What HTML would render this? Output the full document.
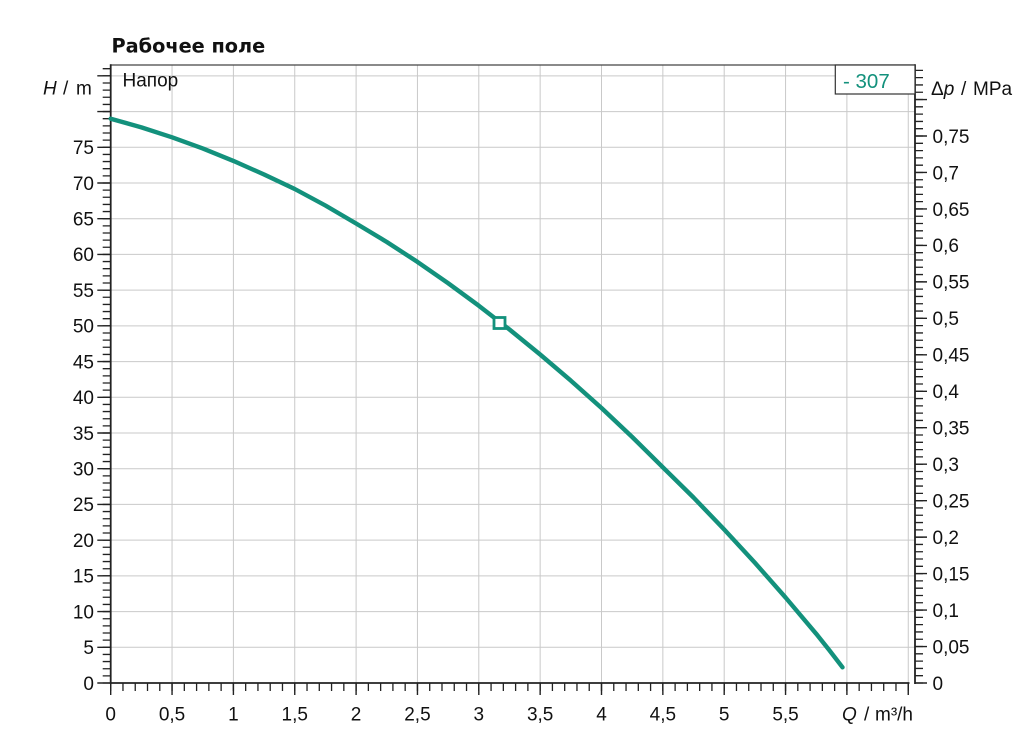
<!DOCTYPE html>
<html>
<head>
<meta charset="utf-8">
<style>
html,body{margin:0;padding:0;background:#fff;}
svg{display:block;}
text{font-family:"Liberation Sans",Arial,sans-serif;fill:#111;}
</style>
</head>
<body>
<svg width="1020" height="740" viewBox="0 0 1020 740" xmlns="http://www.w3.org/2000/svg">
<rect x="0" y="0" width="1020" height="740" fill="#fff"/>

<!-- title -->
<text x="111.5" y="52.5" style="font-family:'DejaVu Sans','Liberation Sans',sans-serif;font-weight:bold;font-size:19.3px;">Рабочее поле</text>

<!-- grid -->
<g stroke="#c9c9c9" stroke-width="1" fill="none">
<line x1="172.05" y1="65" x2="172.05" y2="683"/>
<line x1="233.4" y1="65" x2="233.4" y2="683"/>
<line x1="294.75" y1="65" x2="294.75" y2="683"/>
<line x1="356.1" y1="65" x2="356.1" y2="683"/>
<line x1="417.45" y1="65" x2="417.45" y2="683"/>
<line x1="478.8" y1="65" x2="478.8" y2="683"/>
<line x1="540.15" y1="65" x2="540.15" y2="683"/>
<line x1="601.5" y1="65" x2="601.5" y2="683"/>
<line x1="662.85" y1="65" x2="662.85" y2="683"/>
<line x1="724.2" y1="65" x2="724.2" y2="683"/>
<line x1="785.55" y1="65" x2="785.55" y2="683"/>
<line x1="846.9" y1="65" x2="846.9" y2="683"/>
<line x1="908.25" y1="65" x2="908.25" y2="683"/>

<line x1="110.7" y1="647.29" x2="915" y2="647.29"/>
<line x1="110.7" y1="611.57" x2="915" y2="611.57"/>
<line x1="110.7" y1="575.86" x2="915" y2="575.86"/>
<line x1="110.7" y1="540.14" x2="915" y2="540.14"/>
<line x1="110.7" y1="504.43" x2="915" y2="504.43"/>
<line x1="110.7" y1="468.71" x2="915" y2="468.71"/>
<line x1="110.7" y1="433.0" x2="915" y2="433.0"/>
<line x1="110.7" y1="397.29" x2="915" y2="397.29"/>
<line x1="110.7" y1="361.57" x2="915" y2="361.57"/>
<line x1="110.7" y1="325.86" x2="915" y2="325.86"/>
<line x1="110.7" y1="290.14" x2="915" y2="290.14"/>
<line x1="110.7" y1="254.43" x2="915" y2="254.43"/>
<line x1="110.7" y1="218.71" x2="915" y2="218.71"/>
<line x1="110.7" y1="183.0" x2="915" y2="183.0"/>
<line x1="110.7" y1="147.29" x2="915" y2="147.29"/>
<line x1="110.7" y1="111.57" x2="915" y2="111.57"/>
<line x1="110.7" y1="75.86" x2="915" y2="75.86"/>
</g>

<!-- top frame -->
<line x1="110" y1="65" x2="915" y2="65" stroke="#444" stroke-width="1.3"/>

<!-- ticks: left axis -->
<line x1="106.7" y1="683.65" x2="106.7" y2="66" stroke="#222" stroke-width="8" stroke-dasharray="1.3 5.8429"/>
<line x1="104" y1="683.7" x2="104" y2="73" stroke="#222" stroke-width="13.4" stroke-dasharray="1.4 34.314"/>

<!-- ticks: right axis -->
<line x1="919" y1="683.65" x2="919" y2="68" stroke="#222" stroke-width="8" stroke-dasharray="1.3 5.9933"/>
<line x1="921" y1="683.7" x2="921" y2="97" stroke="#222" stroke-width="12" stroke-dasharray="1.4 35.067"/>

<!-- ticks: bottom axis -->
<line x1="110.05" y1="687" x2="910" y2="687" stroke="#222" stroke-width="8" stroke-dasharray="1.3 10.97"/>
<line x1="110.0" y1="689" x2="910" y2="689" stroke="#222" stroke-width="12" stroke-dasharray="1.4 59.95"/>

<!-- axes -->
<line x1="110.7" y1="64.3" x2="110.7" y2="684" stroke="#222" stroke-width="1.8"/>
<line x1="110" y1="683" x2="909.5" y2="683" stroke="#222" stroke-width="1.8"/>
<line x1="915" y1="64.3" x2="915" y2="684" stroke="#222" stroke-width="1.8"/>

<!-- text labels inside -->
<text x="122.5" y="86.5" style="font-size:19px;">Напор</text>

<!-- box -->
<rect x="835.3" y="65" width="79.7" height="29" fill="#fff" stroke="#333" stroke-width="1.2"/>
<text x="843" y="88" style="font-size:20.5px;fill:#13917c;">- 307</text>

<!-- curve -->
<polyline fill="none" stroke="#13917c" stroke-width="4.4" stroke-linecap="round" stroke-linejoin="round"
points="110.7,118.7 141.4,127.35 172.05,137.3 202.7,148.4 233.4,160.9 264.1,174.5 294.75,189.0 325.4,205.5 356.1,223.5 386.8,242 417.45,261.9 448.1,283.2 478.8,305.7 509.5,329.5 540.15,354.5 570.8,380.6 601.5,408 632.2,437 662.85,467.3 693.5,497.5 724.2,529.5 754.9,562.8 785.55,597.5 816.2,633.8 829.35,650.2 842.5,667.3"/>
<rect x="494" y="317.5" width="11" height="11" fill="#fff" stroke="#13917c" stroke-width="2.8"/>

<!-- left axis labels -->
<g style="font-size:19px;" text-anchor="end">
<text x="94" y="689.8">0</text>
<text x="94" y="654.1">5</text>
<text x="94" y="618.4">10</text>
<text x="94" y="582.7">15</text>
<text x="94" y="547.0">20</text>
<text x="94" y="511.2">25</text>
<text x="94" y="475.5">30</text>
<text x="94" y="439.8">35</text>
<text x="94" y="404.1">40</text>
<text x="94" y="368.4">45</text>
<text x="94" y="332.7">50</text>
<text x="94" y="296.9">55</text>
<text x="94" y="261.2">60</text>
<text x="94" y="225.5">65</text>
<text x="94" y="189.8">70</text>
<text x="94" y="154.1">75</text>
</g>
<text x="43" y="94.5" style="font-size:19px;"><tspan style="font-style:italic;">H</tspan></text>
<text x="63" y="94.5" style="font-size:19px;">/</text>
<text x="76" y="94.5" style="font-size:19px;">m</text>

<!-- right axis labels -->
<g style="font-size:19px;">
<text x="932.5" y="689.8">0</text>
<text x="932.5" y="653.3">0,05</text>
<text x="932.5" y="616.9">0,1</text>
<text x="932.5" y="580.4">0,15</text>
<text x="932.5" y="543.9">0,2</text>
<text x="932.5" y="507.5">0,25</text>
<text x="932.5" y="471.0">0,3</text>
<text x="932.5" y="434.5">0,35</text>
<text x="932.5" y="398.1">0,4</text>
<text x="932.5" y="361.6">0,45</text>
<text x="932.5" y="325.2">0,5</text>
<text x="932.5" y="288.7">0,55</text>
<text x="932.5" y="252.2">0,6</text>
<text x="932.5" y="215.8">0,65</text>
<text x="932.5" y="179.3">0,7</text>
<text x="932.5" y="142.8">0,75</text>
</g>
<text x="931" y="95" style="font-size:19px;">Δ<tspan style="font-style:italic;">p</tspan></text>
<text x="961" y="95" style="font-size:19px;">/</text>
<text x="973" y="95" style="font-size:19px;">MPa</text>

<!-- bottom axis labels -->
<g style="font-size:19px;" text-anchor="middle">
<text x="110.7" y="720.5">0</text>
<text x="172.05" y="720.5">0,5</text>
<text x="233.4" y="720.5">1</text>
<text x="294.75" y="720.5">1,5</text>
<text x="356.1" y="720.5">2</text>
<text x="417.45" y="720.5">2,5</text>
<text x="478.8" y="720.5">3</text>
<text x="540.15" y="720.5">3,5</text>
<text x="601.5" y="720.5">4</text>
<text x="662.85" y="720.5">4,5</text>
<text x="724.2" y="720.5">5</text>
<text x="785.55" y="720.5">5,5</text>
</g>
<text x="842" y="720.5" style="font-size:19px;font-style:italic;">Q</text>
<text x="864" y="720.5" style="font-size:19px;">/</text>
<text x="875" y="720.5" style="font-size:19px;">m³/h</text>
</svg>
</body>
</html>
